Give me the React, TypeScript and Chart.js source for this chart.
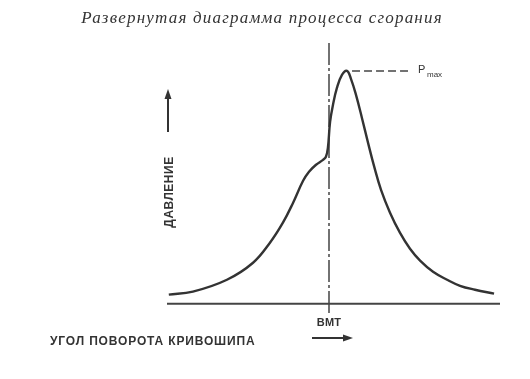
import React, { useEffect, useRef } from "react";
import { Chart, registerables } from "chart.js";

Chart.register(...registerables);

const titleText = "Развернутая диаграмма процесса сгорания";
const yLabel = "ДАВЛЕНИЕ";
const xLabel = "УГОЛ ПОВОРОТА КРИВОШИПА";
const tdcLabel = "ВМТ";
const pmaxMain = "P";
const pmaxSub = "max";

// crank angle (deg, TDC = 0) and relative pressure (Pmax = 100)
const crankAngle = [
  -89, -75.6, -56.7, -42.2, -32.8, -25.6, -20, -14.4, -11.1, -7.2, -3.3, -1.7,
  -0.6, 0.6, 2.2, 4.4, 7.2, 10, 12.2, 15, 18.3, 21.7, 25, 28.9, 33.9, 39.4, 45,
  50.6, 57.8, 65.6, 72.8, 81.1, 91.7,
];
const pressure = [
  3.9, 5.2, 10.3, 17.6, 26.2, 34.8, 43.3, 52.8, 56.7, 59.7, 61.8, 63.1, 67.0,
  78.1, 85.4, 92.7, 98.3, 100, 96.6, 89.7, 79.8, 69.1, 59.2, 48.9, 39.1, 30.5,
  23.6, 18.5, 13.7, 10.3, 7.7, 6.0, 4.3,
];

const xMin = -90;
const xMax = 95;
const yMin = -4;
const yMax = 112;
const tdcAngle = 0;
const pmaxLineStart = 12.8;
const pmaxLineEnd = 45;

const ink = "#333333";

export default function App() {
  const ref = useRef<HTMLCanvasElement | null>(null);

  useEffect(() => {
    const canvas = ref.current;
    if (!canvas) return;
    const pMax = Math.max(...pressure);

    const textPlugin = {
      id: "textPlugin",
      afterDraw(chart: any) {
        const ctx = chart.ctx as CanvasRenderingContext2D;
        ctx.save();
        ctx.fillStyle = ink;
        ctx.strokeStyle = ink;

        // title
        ctx.font = "italic 17px 'Liberation Serif'";
        ctx.textAlign = "center";
        ctx.textBaseline = "middle";
        (ctx as any).letterSpacing = "1.2px";
        ctx.fillText(titleText, 262, 19);
        (ctx as any).letterSpacing = "0px";

        // Pmax label
        const xs = chart.scales.x;
        const ys = chart.scales.y;
        const py = ys.getPixelForValue(pMax);
        const px = xs.getPixelForValue(pmaxLineEnd);
        ctx.textAlign = "left";
        ctx.textBaseline = "alphabetic";
        ctx.font = "11px 'Liberation Sans'";
        ctx.fillText(pmaxMain, px + 8, py + 2);
        ctx.font = "8px 'Liberation Sans'";
        ctx.fillText(pmaxSub, px + 17, py + 6);

        // y label rotated
        ctx.save();
        ctx.translate(170, 192);
        ctx.rotate(-Math.PI / 2);
        ctx.font = "bold 12px 'Liberation Sans'";
        (ctx as any).letterSpacing = "0.5px";
        ctx.textAlign = "center";
        ctx.textBaseline = "middle";
        ctx.fillText(yLabel, 0, 0);
        ctx.restore();

        // up arrow
        ctx.lineWidth = 2;
        ctx.beginPath();
        ctx.moveTo(168, 132);
        ctx.lineTo(168, 96);
        ctx.stroke();
        ctx.beginPath();
        ctx.moveTo(168, 89);
        ctx.lineTo(164.5, 99);
        ctx.lineTo(171.5, 99);
        ctx.closePath();
        ctx.fill();

        // x label
        ctx.font = "bold 12px 'Liberation Sans'";
        (ctx as any).letterSpacing = "0.85px";
        ctx.textAlign = "left";
        ctx.textBaseline = "middle";
        ctx.fillText(xLabel, 50, 342);

        // TDC label
        ctx.font = "bold 11px 'Liberation Sans'";
        (ctx as any).letterSpacing = "0.3px";
        ctx.textAlign = "center";
        ctx.fillText(tdcLabel, xs.getPixelForValue(tdcAngle), 323);
        (ctx as any).letterSpacing = "0px";

        // right arrow
        ctx.lineWidth = 2;
        ctx.beginPath();
        ctx.moveTo(312, 338);
        ctx.lineTo(345, 338);
        ctx.stroke();
        ctx.beginPath();
        ctx.moveTo(353, 338);
        ctx.lineTo(343, 334.5);
        ctx.lineTo(343, 341.5);
        ctx.closePath();
        ctx.fill();

        ctx.restore();
      },
    };

    const chart = new Chart(canvas, {
      type: "line",
      data: {
        datasets: [
          {
            data: crankAngle.map((a, i) => ({ x: a, y: pressure[i] })),
            borderColor: ink,
            borderWidth: 2.4,
            pointRadius: 0,
            tension: 0.4,
            fill: false,
          },
          {
            data: [
              { x: xMin, y: 0 },
              { x: xMax, y: 0 },
            ],
            borderColor: "#444444",
            borderWidth: 2,
            pointRadius: 0,
          },
          {
            data: [
              { x: tdcAngle, y: yMin },
              { x: tdcAngle, y: yMax },
            ],
            borderColor: "#444444",
            borderWidth: 1.5,
            borderDash: [22, 3, 3, 3],
            pointRadius: 0,
          },
          {
            data: [
              { x: pmaxLineStart, y: pMax },
              { x: pmaxLineEnd, y: pMax },
            ],
            borderColor: "#444444",
            borderWidth: 1.5,
            borderDash: [8, 4],
            pointRadius: 0,
          },
        ],
      },
      options: {
        responsive: false,
        animation: false,
        layout: { padding: { left: 167, right: 30, top: 43, bottom: 66 } },
        scales: {
          x: { type: "linear", min: xMin, max: xMax, display: false },
          y: { type: "linear", min: yMin, max: yMax, display: false },
        },
        plugins: {
          legend: { display: false },
          tooltip: { enabled: false },
          title: { display: false },
        },
        elements: { line: { tension: 0 } },
      },
      plugins: [textPlugin],
    } as any);

    return () => chart.destroy();
  }, []);

  return (
    <div
      style={{
        position: "absolute",
        left: 0,
        top: 0,
        width: 530,
        height: 379,
        background: "#ffffff",
      }}
    >
      <canvas ref={ref} width={530} height={379} />
    </div>
  );
}
